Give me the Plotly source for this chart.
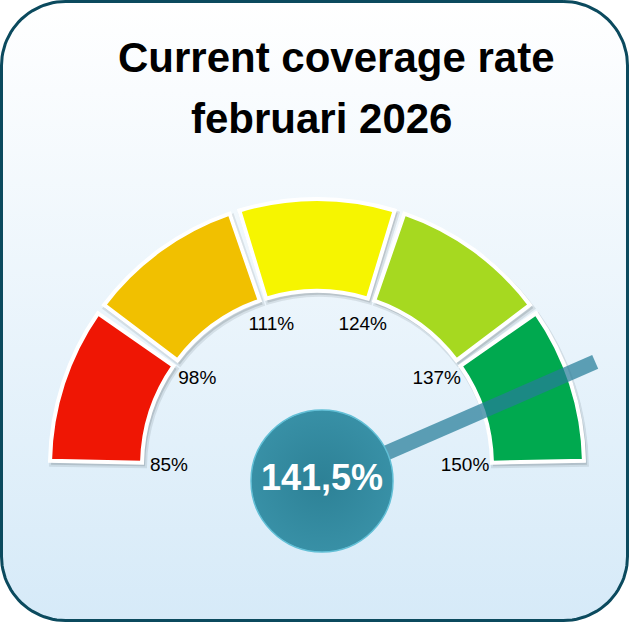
import numpy as np
import plotly.graph_objects as go

# gauge data
bounds = [85, 98, 111, 124, 137, 150]
seg_colors = ["#ef1604", "#f1c000", "#f6f500", "#a6d920", "#00a94f"]
value = 141.5
value_text = "141,5%"
title_lines = ["Current coverage rate", "februari 2026"]

W, H = 629, 622


def to_theta(v):
    # map a percentage onto the half circle (0 = left, 180 = right)
    return (v - bounds[0]) / (bounds[-1] - bounds[0]) * 180


def rounded_rect(x0, y0, x1, y1, rad, n=24):
    xs, ys = [], []
    for cx, cy, a0 in [(x1 - rad, y0 + rad, -90), (x1 - rad, y1 - rad, 0),
                       (x0 + rad, y1 - rad, 90), (x0 + rad, y0 + rad, 180)]:
        a = np.radians(np.linspace(a0, a0 + 90, n))
        xs += list(cx + rad * np.cos(a))
        ys += list(cy + rad * np.sin(a))
    return xs + xs[:1], ys + ys[:1]


fig = go.Figure()

# card background
bx, by = rounded_rect(1.5, 1.5, W - 1.5, H - 1.5, 64)
fig.add_trace(go.Scatter(
    x=bx, y=by, mode="lines", fill="toself",
    line=dict(color="#0b4a5e", width=3),
    fillgradient=dict(type="vertical",
                      colorscale=[[0, "#d6eaf8"], [1, "#ffffff"]]),
    hoverinfo="skip", showlegend=False))

# gauge segments (+ a soft shadow underneath)
centers = [to_theta((a + b) / 2) for a, b in zip(bounds[:-1], bounds[1:])]
n = len(centers)
fig.add_trace(go.Barpolar(
    r=[94] * n, base=[174] * n, theta=centers, width=[34.2] * n,
    marker=dict(color="rgba(60,70,80,0.18)", line=dict(color="rgba(60,70,80,0.12)", width=4)),
    hoverinfo="skip", showlegend=False, subplot="polar"))
fig.add_trace(go.Barpolar(
    r=[92] * n, base=[175] * n, theta=centers, width=[33.8] * n,
    marker=dict(color=seg_colors, line=dict(color="white", width=4)),
    hoverinfo="skip", showlegend=False, subplot="polar2"))

# boundary labels
fig.add_trace(go.Scatterpolar(
    r=[148] * len(bounds), theta=[to_theta(b) for b in bounds],
    mode="text", text=[f"{b}%" for b in bounds],
    textfont=dict(family="Arial, Liberation Sans", size=19, color="black"),
    cliponaxis=False, hoverinfo="skip", showlegend=False, subplot="polar2"))

# needle + value bubble
t = to_theta(value)
fig.add_trace(go.Scatterpolar(
    r=[0, 298], theta=[t, t], mode="lines",
    line=dict(color="rgba(38,125,153,0.72)", width=15),
    cliponaxis=False, hoverinfo="skip", showlegend=False, subplot="polar3"))
fig.add_trace(go.Scatterpolar(
    r=[0], theta=[0], mode="markers+text", text=[value_text],
    textposition="middle center",
    textfont=dict(family="Arial, Liberation Sans", size=36, color="white",
                  weight="bold"),
    marker=dict(size=142, color="#3890a6",
                gradient=dict(type="radial", color="#2d8196"),
                line=dict(color="#62bfd6", width=1.5)),
    cliponaxis=False, hoverinfo="skip", showlegend=False, subplot="polar3"))

for txt, cx, cy in zip(title_lines, [336, 321], [58, 118]):
    fig.add_annotation(
        text=txt, x=cx / W, y=1 - cy / H, xref="paper", yref="paper",
        xanchor="center", yanchor="middle", showarrow=False,
        font=dict(family="Arial, Liberation Sans", size=42, color="black",
                  weight="bold"))

hidden_polar = dict(
    sector=[0, 180], bgcolor="rgba(0,0,0,0)",
    angularaxis=dict(visible=False, rotation=180, direction="clockwise"),
)

fig.update_layout(
    width=W, height=H,
    margin=dict(l=0, r=0, t=0, b=0),
    paper_bgcolor="white", plot_bgcolor="rgba(0,0,0,0)",
    xaxis=dict(range=[0, W], visible=False, domain=[0, 1], fixedrange=True),
    yaxis=dict(range=[H, 0], visible=False, domain=[0, 1], fixedrange=True),
    polar=dict(hidden_polar,
               domain=dict(x=[49 / W, 589 / W], y=[(H - 469) / H, (H - 469 + 270) / H]),
               radialaxis=dict(range=[0, 270], visible=False)),
    polar2=dict(hidden_polar,
                domain=dict(x=[47 / W, 587 / W], y=[(H - 466) / H, (H - 466 + 270) / H]),
                radialaxis=dict(range=[0, 270], visible=False)),
    polar3=dict(hidden_polar,
                domain=dict(x=[22 / W, 622 / W], y=[(H - 481) / H, (H - 481 + 300) / H]),
                radialaxis=dict(range=[0, 300], visible=False)),
)

fig.write_html("out.html", config={"displayModeBar": False},
               post_script="document.body.style.margin = '0';")
